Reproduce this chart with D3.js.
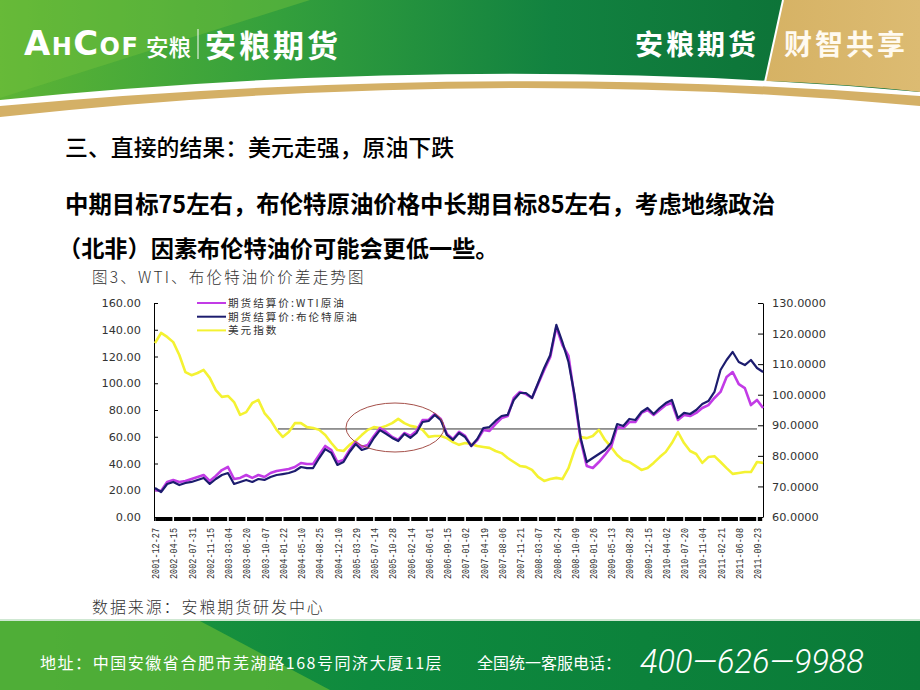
<!DOCTYPE html>
<html><head><meta charset="utf-8">
<script src="https://cdn.jsdelivr.net/npm/d3@7"></script>
<style>body{margin:0;background:#fff;overflow:hidden} svg{display:block}</style>
</head><body><svg id="s" width="920" height="690"></svg>
<script>
// ---------------- data ----------------
const tickLabels = ["2001-12-27","2002-04-15","2002-07-31","2002-11-15","2003-03-04","2003-06-20","2003-10-07","2004-01-22","2004-05-10","2004-08-25","2004-12-10","2005-03-29","2005-07-14","2005-10-28","2006-02-14","2006-06-01","2006-09-15","2007-01-02","2007-04-19","2007-08-06","2007-11-21","2008-03-07","2008-06-24","2008-10-09","2009-01-26","2009-05-13","2009-08-28","2009-12-15","2010-04-02","2010-07-20","2010-11-04","2011-02-21","2011-06-08","2011-09-23"];
const samplesPerLabel = 3; // samples between two consecutive tick labels
const wti = [20.2,19.4,26.2,27.7,26.2,26.9,28.4,29.9,31.4,26.9,30.7,35.1,37.4,28.4,29.2,31.4,29.2,31.4,29.9,32.9,34.4,35.1,35.9,37.4,40.4,39.6,39.6,46.4,53.1,50.1,41.1,42.6,50.1,56.1,52.3,53.8,60.6,66.5,63.6,59.8,57.6,62.8,60.6,64.3,72.5,72.5,77.0,73.3,62.1,58.3,63.6,60.6,53.1,57.6,65.0,64.3,69.5,74.0,75.5,89.0,93.5,91.9,89.0,99.4,109.9,119.6,142.1,128.6,120.4,89.0,57.6,38.1,36.6,41.1,46.4,52.3,67.3,66.5,71.0,71.0,77.8,80.0,76.3,80.0,83.7,85.2,72.5,76.3,75.5,77.8,81.5,83.7,89.0,93.5,104.7,108.4,99.4,96.4,83.7,87.5,81.5];
const brent = [21.7,18.7,24.7,26.2,23.9,25.4,26.2,27.7,29.2,24.7,28.4,31.4,32.9,24.7,26.2,27.7,26.2,28.4,27.7,29.9,31.4,32.1,32.9,34.4,37.4,36.6,36.6,44.1,50.8,47.9,38.9,41.1,48.6,54.6,50.1,51.6,59.1,65.0,62.1,59.1,56.8,62.1,59.1,62.8,71.0,71.8,76.3,72.5,61.3,57.6,62.8,59.8,53.1,58.3,66.5,67.3,71.8,75.5,76.3,87.5,92.7,92.7,89.0,100.2,111.4,121.1,143.6,130.8,115.9,91.2,59.1,41.1,44.1,47.1,50.1,55.3,69.5,68.0,73.3,72.5,78.5,81.5,77.0,81.5,85.2,87.5,74.0,77.8,77.0,80.0,84.5,86.7,93.5,109.9,117.4,123.4,115.9,113.6,117.4,111.4,108.4];
const usdIndex = [116.9,120.2,118.9,117.2,113.0,107.4,106.4,107.1,108.1,105.5,101.5,99.3,99.6,97.6,93.4,94.3,97.3,98.3,94.0,91.7,88.5,86.2,87.8,90.7,90.7,89.4,89.1,88.5,86.8,84.2,81.9,81.6,83.6,84.9,86.8,88.5,89.4,89.1,89.8,90.7,92.1,90.7,89.8,89.4,88.5,86.2,86.5,86.5,85.8,84.5,83.6,84.2,83.9,83.2,82.9,82.6,81.6,80.9,79.3,78.0,76.7,76.4,75.4,73.1,71.8,72.4,72.8,72.4,76.0,81.9,86.2,85.8,86.5,88.5,85.2,82.9,80.3,78.6,78.0,76.7,75.4,76.0,77.7,79.6,81.3,84.2,87.8,84.2,81.6,80.6,77.7,79.6,79.9,78.0,76.0,74.1,74.4,74.7,74.7,78.0,77.7];
const leftTicks = [0,20,40,60,80,100,120,140,160];
const rightTicks = [60,70,80,90,100,110,120,130];
const seriesNames = ["期货结算价:WTI原油","期货结算价:布伦特原油","美元指数"];
const refLevel = 88.8;            // horizontal reference line (right axis)
const refFrom = 6.74;             // label index where it starts

// ---------------- slide frame ----------------
const svg = d3.select("#s");
const defs = svg.append("defs");
const g1 = defs.append("linearGradient").attr("id","hdr").attr("x1","0").attr("x2","1").attr("y1","0").attr("y2","0");
[[0,"#5db435"],[0.3,"#34a03c"],[0.6,"#128240"],[1,"#0a6c34"]].forEach(s=>g1.append("stop").attr("offset",s[0]).attr("stop-color",s[1]));
const g2 = defs.append("linearGradient").attr("id","gold").attr("x1","0").attr("x2","1");
[[0,"#d6b264"],[1,"#dcbb72"]].forEach(s=>g2.append("stop").attr("offset",s[0]).attr("stop-color",s[1]));
const g3 = defs.append("linearGradient").attr("id","ftr").attr("x1","0").attr("x2","1");
[[0,"#23983c"],[0.4,"#0e8a3e"],[1,"#0a7a38"]].forEach(s=>g3.append("stop").attr("offset",s[0]).attr("stop-color",s[1]));

svg.append("rect").attr("width",920).attr("height",690).attr("fill","#fff");
// header green
svg.append("path").attr("d","M0,0 L920,0 L920,92 Q480,52 0,100 Z").attr("fill","url(#hdr)");
svg.append("path").attr("d","M0,0 L310,0 L0,98 Z").attr("fill","#74c23c").attr("opacity",0.45);
// gold panel
svg.append("path").attr("d","M783,0 L920,0 L920,92 Q850,84 765,81 Z").attr("fill","url(#gold)");
svg.append("path").attr("d","M783,0 L765,82").attr("stroke","#fff").attr("stroke-width",2);
// gold stripe
svg.append("path").attr("d","M0,106 Q480,62 920,96 L920,106 Q480,65 0,117 Z").attr("fill","#d4b066");

// logo
const logo = svg.append("text").attr("x",24).attr("y",55).attr("fill","#fff")
  .attr("font-family","DejaVu Sans").attr("font-weight","bold").attr("letter-spacing",1.4);
[["A",34],["H",24],["C",34],["O",24],["F",24]].forEach(p=>logo.append("tspan").attr("font-size",p[1]).text(p[0]));
svg.append("text").attr("x",146).attr("y",56).attr("fill","#fff").attr("font-family","Noto Sans CJK SC")
  .attr("font-weight",500).attr("font-size",22.5).text("安粮");
svg.append("line").attr("x1",198).attr("x2",198).attr("y1",29).attr("y2",59).attr("stroke","#dfeedd").attr("stroke-width",1.2);
svg.append("text").attr("x",205).attr("y",57).attr("fill","#fff").attr("font-family","Noto Sans CJK SC")
  .attr("font-weight","bold").attr("font-size",31).attr("letter-spacing",3).text("安粮期货");
svg.append("text").attr("x",635).attr("y",55).attr("fill","#fff").attr("font-family","Noto Sans CJK SC")
  .attr("font-weight","bold").attr("font-size",28).attr("letter-spacing",3).text("安粮期货");
svg.append("text").attr("x",784).attr("y",55).attr("fill","#fffaf0").attr("font-family","Noto Sans CJK SC")
  .attr("font-weight","bold").attr("font-size",28).attr("letter-spacing",3).text("财智共享");

// titles
const cjk = "Noto Sans CJK SC";
svg.append("text").attr("x",65).attr("y",156).attr("font-family",cjk).attr("font-weight",500).attr("font-size",22.9).attr("fill","#000").text("三、直接的结果：美元走强，原油下跌");
svg.append("text").attr("x",65).attr("y",213).attr("font-family",cjk).attr("font-weight","bold").attr("font-size",23.4).attr("fill","#000").text("中期目标75左右，布伦特原油价格中长期目标85左右，考虑地缘政治");
svg.append("text").attr("x",58).attr("y",257).attr("font-family",cjk).attr("font-weight","bold").attr("font-size",23.2).attr("fill","#000").text("（北非）因素布伦特油价可能会更低一些。");
svg.append("text").attr("x",92).attr("y",283).attr("font-family",cjk).attr("font-weight",300).attr("font-size",15.5).attr("letter-spacing",2.2).attr("fill","#333").text("图3、WTI、布伦特油价价差走势图");
svg.append("text").attr("x",92).attr("y",613).attr("font-family",cjk).attr("font-weight",300).attr("font-size",16).attr("letter-spacing",1.9).attr("fill","#333").text("数据来源：安粮期货研发中心");

// footer
svg.append("rect").attr("x",0).attr("y",621).attr("width",920).attr("height",69).attr("fill","url(#ftr)");
svg.append("path").attr("d","M0,621 L200,621 L330,690 L0,690 Z").attr("fill","#5fb636").attr("opacity",0.75);
svg.append("line").attr("x1",0).attr("x2",920).attr("y1",620).attr("y2",620).attr("stroke","#cfe8d2").attr("stroke-width",2);
svg.append("text").attr("x",40).attr("y",669).attr("fill","#fff").attr("font-family",cjk).attr("font-size",16).attr("letter-spacing",1.55).text("地址：中国安徽省合肥市芜湖路168号同济大厦11层");
svg.append("text").attr("x",477).attr("y",669).attr("fill","#fff").attr("font-family",cjk).attr("font-size",16).text("全国统一客服电话：");
svg.append("text").attr("x",640).attr("y",673).attr("fill","#fff").attr("font-family","Roboto").attr("font-weight",300).attr("font-style","italic").attr("font-size",32.5).text("400—626—9988");

// ---------------- chart ----------------
const x = d3.scaleLinear().domain([0, tickLabels.length-1]).range([155, 757]);
const yL = d3.scaleLinear().domain([0,160]).range([517,303]);
const yR = d3.scaleLinear().domain([60,130]).range([517,303]);
const xi = i => x(i / samplesPerLabel);

const chart = svg.append("g");
// axes
const axL = chart.append("g").attr("transform","translate(154,0)")
  .call(d3.axisLeft(yL).tickValues(leftTicks).tickFormat(d3.format(".2f")).tickSizeInner(-4).tickSizeOuter(0).tickPadding(13));
const axR = chart.append("g").attr("transform","translate(763,0)")
  .call(d3.axisRight(yR).tickValues(rightTicks).tickFormat(d3.format(".4f")).tickSizeInner(-5).tickSizeOuter(0).tickPadding(9));
[axL,axR].forEach(a=>{
  a.selectAll("text").attr("font-family","DejaVu Sans").attr("font-size",11.3).attr("fill","#333");
  a.selectAll("line,path").attr("stroke","#000");
});
const axB = chart.append("g").attr("transform","translate(0,517)")
  .call(d3.axisBottom(x).tickValues(d3.range(tickLabels.length)).tickFormat(i=>tickLabels[i]).tickSize(0));
axB.select(".domain").remove();
axB.selectAll("text").attr("transform","rotate(-90)").attr("x",-11).attr("y",0).attr("dy","0.35em")
  .attr("text-anchor","end").attr("font-family","Liberation Mono").attr("font-size",10.5)
  .attr("textLength",51).attr("lengthAdjust","spacingAndGlyphs").attr("fill","#333");
// thick segmented x axis band
const segs = d3.range(tickLabels.length);
chart.append("g").selectAll("rect").data(segs).join("rect")
  .attr("x",d=>x(d)+0.8).attr("y",517).attr("height",4)
  .attr("width",d=>(d===segs.length-1? 763 : x(d+1)) - x(d) - 1.6).attr("fill","#000");
chart.append("rect").attr("x",154).attr("y",517).attr("width",1.6).attr("height",4).attr("fill","#000");

// reference line
chart.append("line").attr("x1",x(refFrom)).attr("x2",x(tickLabels.length-1)).attr("y1",yR(refLevel)).attr("y2",yR(refLevel))
  .attr("stroke","#333").attr("stroke-width",1);

// series
const lineL = d3.line().x((d,i)=>xi(i)).y(d=>yL(d));
const lineR = d3.line().x((d,i)=>xi(i)).y(d=>yR(d));
const colors = ["#c23be6","#1c1c6e","#f4f232"];
chart.append("path").attr("d",lineR(usdIndex)).attr("fill","none").attr("stroke",colors[2]).attr("stroke-width",2.6).attr("stroke-linejoin","round");
chart.append("path").attr("d",lineL(wti)).attr("fill","none").attr("stroke",colors[0]).attr("stroke-width",2.6).attr("stroke-linejoin","round");
chart.append("path").attr("d",lineL(brent)).attr("fill","none").attr("stroke",colors[1]).attr("stroke-width",2.2).attr("stroke-linejoin","round");

chart.append("ellipse").attr("cx",395).attr("cy",427.5).attr("rx",49).attr("ry",24.5)
  .attr("fill","none").attr("stroke","#a5504a").attr("stroke-width",1);

// legend
const lg = chart.append("g").selectAll("g").data(seriesNames).join("g")
  .attr("transform",(d,i)=>`translate(197,${303+i*13.7})`);
lg.append("line").attr("x1",0).attr("x2",29).attr("stroke",(d,i)=>colors[i]).attr("stroke-width",2);
lg.append("text").attr("x",31).attr("dy","0.36em").attr("font-family",cjk).attr("font-size",10.6).attr("letter-spacing",2.0)
  .attr("fill","#333").text(d=>d);
</script></body></html>
